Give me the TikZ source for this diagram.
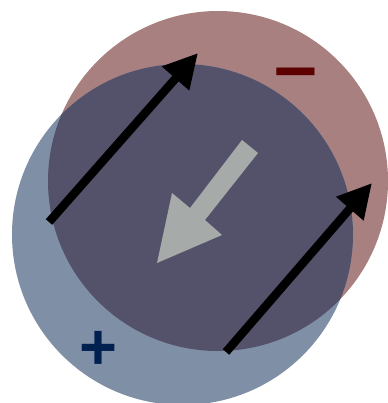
\documentclass[tikz,border=0pt]{standalone}
\usepackage{fontspec}
\setmainfont{Liberation Sans}
\usetikzlibrary{arrows.meta}
\definecolor{redc}{HTML}{A98080}
\definecolor{bluec}{HTML}{7F8FA6}
\definecolor{overc}{HTML}{54526A}
\definecolor{grayc}{HTML}{A6AAA8}
\definecolor{minusc}{HTML}{5C0000}
\definecolor{plusc}{HTML}{002050}
\tikzset{
  field/.style={line width=8.5pt, line cap=butt, -{Triangle[length=34pt,width=34pt]}},
  sign/.style={inner sep=0pt, anchor=base, font=\bfseries\fontsize{65}{65}\selectfont}
}
\begin{document}
\begin{tikzpicture}[x=1pt,y=-1pt]
\useasboundingbox (0,0) rectangle (387,403);
\fill[redc] (218,181) circle (170);
\fill[bluec] (182.5,234.5) circle (170.5);
\begin{scope}
  \clip (218,181) circle (170);
  \fill[overc] (182.5,234.5) circle (170.5);
\end{scope}
% gray arrow
\fill[grayc] (242,140) -- (258,153) -- (205,220) -- (222,235) -- (157,263) -- (172,193) -- (190,208) -- cycle;
% black arrows
\coordinate (a1s) at (49,222);
\coordinate (a1e) at (198,53);
\coordinate (a2s) at (226,352);
\coordinate (a2e) at (372,183);
\draw[field] (a1s) -- (a1e);
\draw[field] (a2s) -- (a2e);
% signs
\node[sign, text=plusc] (plus) at (98,369) {+};
\node[sign, text=minusc, font=\bfseries\fontsize{77}{77}\selectfont] (minus) at (295.5,93) {–};
\end{tikzpicture}
\end{document}
